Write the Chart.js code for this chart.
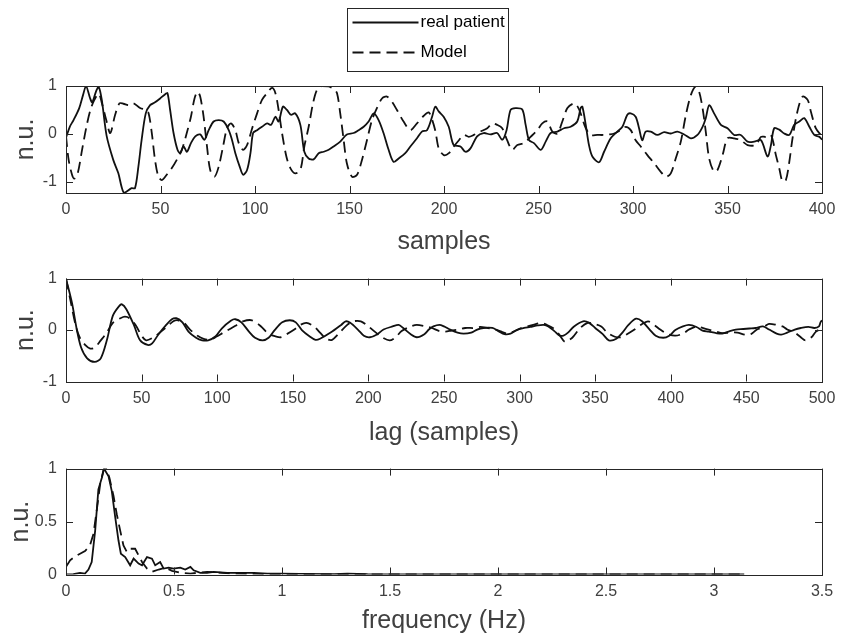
<!DOCTYPE html>
<html>
<head>
<meta charset="utf-8">
<title>Patient vs model</title>
<script src="https://cdn.jsdelivr.net/npm/chart.js@4.4.1/dist/chart.umd.min.js"></script>
<style>
  html, body { margin: 0; padding: 0; background: #fff; overflow: hidden; }
  #wrap { position: relative; width: 849px; height: 636px; }
  #wrap canvas { position: absolute; left: 0; }
</style>
</head>
<body>
<div id="wrap">
  <canvas id="signalChart" width="849" height="260" style="top:0"></canvas>
  <canvas id="acfChart" width="849" height="190" style="top:260px"></canvas>
  <canvas id="psdChart" width="849" height="188" style="top:450px"></canvas>
</div>
<script>
// ---- data ----

// panel 1: time series (samples)
const signalTicksX = [0, 50, 100, 150, 200, 250, 300, 350, 400];
const signalTicksY = [-1, 0, 1];
const patientSignalX = [0, 2, 4, 7, 9, 10.6, 12.7, 13.9, 15.9, 17.3, 18.9, 21.5, 25, 27.7, 29.4, 30.7, 32.1, 34.7, 36.5, 38.3,
  40, 42.2, 44.5, 47.1, 49.8, 52.5, 53.7, 55.1, 56.9, 59, 60.4, 62.2, 64, 66.1, 68.4, 71, 73.2, 75.5, 78.1, 80.8,
  83.4, 86.1, 87.8, 89.6, 91.9, 93.7, 95.8, 97.6, 99, 101.1, 103.7, 106.4, 108.5, 110.8, 112.5, 114.8, 116.9, 119, 121.3, 124,
  126.1, 128.4, 131, 133.7, 136.3, 139, 141.6, 145.1, 148.6, 152.2, 154.8, 157.5, 160.1, 162.8, 165.4, 168, 170.7, 173.3, 176, 179.5,
  182.2, 185.7, 188.3, 191, 193.7, 195.4, 197.2, 199.8, 202.5, 205.1, 208.7, 211.3, 214, 217.5, 221, 224.6, 228.1, 230.8, 233.1, 235.2,
  237.8, 241.4, 243.2, 245, 247.6, 251.2, 253.8, 256.4, 260, 263.5, 267, 270.5, 272.3, 273.2, 275, 276.7, 278.5, 282, 284.7, 288.2,
  291.7, 294.4, 297, 298.8, 301.4, 303.2, 304.9, 306.7, 309.4, 312.9, 316.5, 320, 323.5, 327.1, 330.6, 334.1, 336.8, 338.5, 340.3, 342.9,
  346.5, 350, 353.5, 357, 360.6, 364.1, 367.7, 371.2, 373, 374.7, 377.4, 380, 382.7, 385.3, 388, 390.6, 393.3, 395.9, 398.6, 400];
const patientSignalY = [-0.08, 0.15, 0.29, 0.54, 0.81, 1.0, 0.75, 0.66, 0.89, 0.98, 0.72, -0.04, -0.54, -0.82, -1.1, -1.23, -1.2, -1.13, -1.13, -0.68,
  -0.13, 0.43, 0.6, 0.66, 0.74, 0.83, 0.85, 0.5, 0.02, -0.33, -0.4, -0.26, -0.37, -0.19, -0.05, -0.01, -0.12, 0.08, 0.26, 0.29,
  0.26, 0.08, -0.12, -0.4, -0.68, -0.85, -0.75, -0.4, 0.02, 0.08, 0.15, 0.22, 0.19, 0.36, 0.26, 0.57, 0.5, 0.4, 0.43, 0.19,
  -0.37, -0.51, -0.53, -0.4, -0.37, -0.33, -0.26, -0.16, -0.01, 0.02, 0.08, 0.15, 0.26, 0.43, 0.29, 0.02, -0.33, -0.58, -0.51, -0.4,
  -0.26, -0.09, 0.05, 0.08, 0.36, 0.57, 0.47, 0.36, 0.15, -0.23, -0.26, -0.37, -0.3, -0.05, 0.02, -0.01, 0.02, -0.12, 0.08, 0.5,
  0.54, 0.51, 0.19, -0.13, -0.19, -0.33, -0.16, 0.02, 0.05, 0.12, 0.15, 0.26, 0.54, 0.57, 0.19, -0.23, -0.47, -0.59, -0.37, -0.09,
  0.05, 0.15, 0.4, 0.43, 0.36, 0.12, -0.13, 0.05, 0.05, -0.02, 0.04, 0.01, 0.05, -0.01, -0.09, -0.02, 0.15, 0.33, 0.6, 0.43,
  0.19, 0.12, -0.02, -0.02, -0.16, -0.16, -0.13, -0.47, -0.23, 0.12, 0.09, 0.01, -0.02, 0.19, 0.26, 0.33, 0.15, -0.02, -0.06, -0.12];
const modelSignalX = [0, 1.4, 3.2, 4.4, 6.2, 8.5, 10.8, 12.9, 15, 17.3, 19, 21.3, 23.4, 26, 28.3, 30.4, 33.1, 35.7, 39.2, 42.2,
  43.7, 45.4, 47.1, 48.9, 50.7, 53.3, 56, 58.6, 61.3, 63.9, 66.1, 68, 69.6, 71, 72.8, 74.6, 76.3, 78.6, 80.8, 83.1,
  85.2, 87.3, 89.6, 91.4, 93.7, 95.8, 98.5, 101.1, 103.7, 106.4, 109, 110.8, 112.5, 114.3, 116.6, 118.7, 121.3, 124, 126.1, 128.4,
  130.7, 132.8, 135.5, 139, 141.6, 143.4, 145.1, 146.9, 148.6, 151.3, 154, 156.6, 159.3, 161.9, 164.5, 167.2, 169.8, 172.5, 175.1, 178.6,
  182.2, 185.7, 189.3, 191.9, 193.7, 195.5, 197.2, 199.9, 202.6, 205.2, 207.9, 210.5, 213.1, 215.8, 219.3, 222.9, 225.5, 228.1, 230.8, 233.4,
  236.1, 238.8, 242.3, 245.8, 249.4, 252, 254.7, 257.3, 260, 262.6, 265.3, 268.9, 270.7, 272.3, 275, 277.6, 281.1, 284.7, 287.3, 290,
  293.5, 296.2, 298.8, 301.4, 304.1, 307.6, 311.2, 314.7, 317.4, 320, 322.6, 325.3, 328, 330.6, 333.2, 335, 336.8, 338.5, 340.3, 342.9,
  344.7, 347.4, 350, 353.5, 357, 360.6, 365, 367.7, 370.3, 373, 375.6, 377.4, 379.1, 380.9, 382.7, 384.4, 387, 389.7, 392.4, 394.1,
  396.7, 399.4, 400];
const modelSignalY = [-0.04, -0.54, -0.85, -0.93, -0.82, -0.33, 0.15, 0.5, 0.71, 0.84, 0.64, 0.29, 0.02, 0.4, 0.64, 0.63, 0.6, 0.64, 0.54, 0.5,
  0.43, 0.02, -0.54, -0.89, -0.96, -0.85, -0.71, -0.54, -0.33, 0.02, 0.36, 0.74, 0.88, 0.78, 0.36, -0.26, -0.75, -0.89, -0.68, -0.26,
  0.12, 0.22, 0.08, -0.19, -0.33, -0.23, 0.12, 0.43, 0.71, 0.85, 0.96, 0.85, 0.5, 0.02, -0.47, -0.71, -0.82, -0.75, -0.26, 0.15,
  0.64, 0.92, 1.0, 0.99, 0.94, 0.85, 0.43, -0.12, -0.61, -0.89, -0.85, -0.54, -0.12, 0.29, 0.54, 0.74, 0.78, 0.67, 0.5, 0.26,
  0.08, 0.22, 0.38, 0.45, 0.3, 0.05, -0.3, -0.44, -0.4, -0.26, -0.13, -0.02, -0.06, -0.02, 0.05, 0.12, 0.22, 0.19, 0.12, -0.13,
  -0.33, -0.23, -0.19, -0.06, 0.08, 0.22, 0.26, 0.05, 0.01, 0.26, 0.54, 0.64, 0.57, 0.43, 0.12, -0.02, -0.02, -0.02, -0.01, 0.01,
  0.08, 0.15, 0.08, -0.13, -0.26, -0.44, -0.61, -0.79, -0.89, -0.82, -0.51, -0.16, 0.4, 0.81, 0.99, 0.88, 0.54, 0.05, -0.51, -0.79,
  -0.75, -0.44, -0.09, -0.09, -0.13, -0.23, -0.23, -0.06, -0.06, -0.02, -0.44, -0.72, -0.99, -0.96, -0.58, -0.09, 0.47, 0.78, 0.71, 0.47,
  0.12, -0.02, -0.04];

// panel 2: autocorrelation (lag in samples)
const acfTicksX = [0, 50, 100, 150, 200, 250, 300, 350, 400, 450, 500];
const acfTicksY = [-1, 0, 1];
const patientAcfX = [0, 4, 7, 10, 14, 19, 23, 27, 31, 35, 37, 40, 45, 49, 54, 57, 61, 66, 70, 73,
  77, 81, 86, 90, 94, 99, 103, 109, 112, 116, 121, 125, 130, 134, 138, 143, 148, 152, 156, 161,
  165, 168, 175, 182, 185, 188, 193, 197, 201, 206, 210, 216, 220, 223, 228, 232, 237, 240, 243, 247,
  250, 254, 259, 263, 268, 272, 276, 282, 286, 290, 294, 298, 303, 307, 312, 316, 319, 323, 326, 329,
  332, 336, 342, 346, 350, 355, 359, 364, 368, 372, 377, 381, 386, 390, 395, 399, 403, 408, 412, 417,
  421, 425, 430, 434, 439, 443, 448, 452, 456, 461, 465, 470, 473, 477, 482, 486, 491, 495, 498, 499, 500];
const patientAcfY = [1.0, 0.52, 0.03, -0.34, -0.55, -0.62, -0.55, -0.2, 0.28, 0.46, 0.5, 0.4, 0.09, -0.2, -0.29, -0.26, -0.09, 0.09, 0.21, 0.23,
  0.15, -0.03, -0.15, -0.2, -0.2, -0.12, 0.03, 0.18, 0.21, 0.15, -0.03, -0.15, -0.2, -0.15, 0, 0.15, 0.19, 0.15, 0, -0.12,
  -0.19, -0.17, -0.05, 0.1, 0.17, 0.14, 0.01, -0.11, -0.14, -0.08, 0.01, 0.07, 0.1, 0.04, -0.08, -0.14, -0.08, 0.01, 0.07, 0.1,
  0.07, 0.01, -0.05, -0.07, -0.05, 0.01, 0.04, 0.04, -0.02, -0.08, -0.07, 0, 0.04, 0.06, 0.09, 0.1, 0.07, -0.02, -0.1, -0.11,
  -0.05, 0.07, 0.17, 0.14, 0.04, -0.08, -0.2, -0.17, -0.05, 0.1, 0.22, 0.17, 0.01, -0.11, -0.15, -0.11, 0, 0.07, 0.1, 0.06,
  -0.01, -0.03, -0.06, -0.07, -0.02, 0.01, 0.02, 0.03, 0.04, 0.07, 0.01, -0.07, -0.09, -0.05, 0.01, 0.04, 0.06, 0.04, 0.07, 0.15, 0.19];
const modelAcfX = [0, 3, 6, 9, 13, 16, 19, 23, 27, 31, 36, 39, 42, 46, 50, 53, 58, 62, 67, 71,
  74, 78, 82, 87, 91, 95, 100, 104, 109, 113, 117, 123, 129, 133, 137, 142, 146, 151, 155, 159,
  164, 168, 172, 176, 180, 186, 190, 195, 200, 205, 209, 214, 218, 222, 228, 232, 238, 242, 247, 251,
  255, 260, 264, 270, 274, 279, 283, 287, 292, 296, 301, 305, 309, 314, 318, 322, 326, 330, 334, 336,
  340, 345, 349, 354, 358, 363, 367, 371, 376, 380, 385, 389, 393, 398, 403, 408, 412, 417, 421, 425,
  430, 434, 439, 444, 449, 453, 457, 462, 465, 470, 474, 477, 482, 486, 489, 493, 496, 500];
const modelAcfY = [1.0, 0.57, 0.14, -0.14, -0.3, -0.36, -0.34, -0.2, -0.05, 0.14, 0.23, 0.26, 0.23, 0.1, -0.11, -0.2, -0.14, -0.05, 0.07, 0.17,
  0.19, 0.14, 0.01, -0.11, -0.17, -0.19, -0.12, -0.05, 0.03, 0.1, 0.17, 0.19, 0.07, -0.05, -0.11, -0.14, -0.08, 0.01, 0.1, 0.14,
  0.07, -0.05, -0.17, -0.19, -0.08, 0.1, 0.17, 0.17, 0.07, -0.05, -0.14, -0.2, -0.14, -0.02, 0.07, 0.1, 0.07, 0.04, -0.02, -0.03,
  -0.01, 0.01, 0.04, 0.04, 0.06, 0.04, 0.02, -0.02, -0.07, -0.03, 0.04, 0.07, 0.1, 0.14, 0.1, 0.04, -0.08, -0.23, -0.17, -0.11,
  0.04, 0.14, 0.12, 0.07, -0.05, -0.13, -0.14, -0.08, 0.01, 0.1, 0.17, 0.1, 0.01, -0.08, -0.11, -0.07, 0.01, 0.07, 0.04, 0.01,
  -0.03, -0.06, -0.05, -0.05, -0.09, -0.08, 0.01, 0.07, 0.12, 0.1, 0.07, 0.01, -0.05, -0.14, -0.2, -0.14, -0.03, 0.03];

// panel 3: normalised spectrum (Hz)
const psdTicksX = [0, 0.5, 1, 1.5, 2, 2.5, 3, 3.5];
const psdTicksY = [0, 0.5, 1];
const patientPsdX = [0, 0.034, 0.065, 0.088, 0.104, 0.119, 0.135, 0.15, 0.166, 0.176, 0.197, 0.212, 0.228, 0.243, 0.254, 0.274, 0.297, 0.313, 0.336, 0.352,
  0.375, 0.398, 0.413, 0.436, 0.452, 0.475, 0.498, 0.529, 0.552, 0.576, 0.591, 0.622, 0.653, 0.684, 0.746, 0.808, 0.87, 0.932, 0.994, 1.086,
  1.241, 1.303, 1.396, 1.644, 2.0, 2.5, 3.0, 3.14];
const patientPsdY = [0, 0.003, 0.016, 0.009, 0.047, 0.118, 0.414, 0.804, 0.913, 1.0, 0.928, 0.788, 0.539, 0.321, 0.196, 0.165, 0.087, 0.15, 0.103, 0.087,
  0.165, 0.15, 0.087, 0.118, 0.056, 0.065, 0.056, 0.065, 0.047, 0.072, 0.04, 0.016, 0.016, 0.025, 0.016, 0.016, 0.016, 0.009, 0.009, 0.006,
  0.003, 0.009, 0.003, 0.002, 0.001, 0.001, 0, 0];
const modelPsdX = [0, 0.019, 0.042, 0.065, 0.088, 0.111, 0.127, 0.142, 0.158, 0.173, 0.186, 0.201, 0.22, 0.235, 0.251, 0.266, 0.282, 0.297, 0.32, 0.336,
  0.352, 0.375, 0.398, 0.429, 0.46, 0.491, 0.529, 0.576, 0.653, 0.777, 0.932, 1.086, 1.5, 2.0, 2.5, 3.14];
const modelPsdY = [0.072, 0.134, 0.171, 0.196, 0.221, 0.274, 0.383, 0.601, 0.85, 0.981, 1.0, 0.913, 0.741, 0.57, 0.414, 0.274, 0.212, 0.243, 0.243, 0.181,
  0.118, 0.056, 0.025, 0.047, 0.065, 0.034, 0.016, 0.009, 0.025, 0.009, 0.003, 0, 0, 0, 0, 0];

const seriesLabels = ['real patient', 'Model'];

// ---- styling ----
Chart.defaults.font.family = '"Liberation Sans", Arial, Helvetica, sans-serif';
const TEXT = '#404040';
const AXIS = '#262626';

function toPoints(xs, ys) {
  return xs.map((x, i) => ({ x: x, y: ys[i] }));
}

function lineDataset(label, xs, ys, dashed, tension) {
  return {
    label: label,
    data: toPoints(xs, ys),
    borderColor: '#111',
    borderWidth: 1.8,
    borderDash: dashed ? [11, 6] : [],
    pointRadius: 0,
    tension: tension,
    fill: false
  };
}

// MATLAB-like box with inward ticks on all four sides
const matlabBox = {
  id: 'matlabBox',
  afterDatasetsDraw(chart) {
    const { ctx, chartArea: a, scales: { x, y } } = chart;
    const len = 7;
    ctx.save();
    ctx.strokeStyle = AXIS;
    ctx.lineWidth = 1;
    ctx.beginPath();
    x.ticks.forEach(t => {
      const px = Math.round(x.getPixelForValue(t.value)) + 0.5;
      ctx.moveTo(px, a.bottom); ctx.lineTo(px, a.bottom - len);
      ctx.moveTo(px, a.top); ctx.lineTo(px, a.top + len);
    });
    y.ticks.forEach(t => {
      const py = Math.round(y.getPixelForValue(t.value)) + 0.5;
      ctx.moveTo(a.left, py); ctx.lineTo(a.left + len, py);
      ctx.moveTo(a.right, py); ctx.lineTo(a.right - len, py);
    });
    ctx.stroke();
    ctx.strokeRect(Math.round(a.left) + 0.5, Math.round(a.top) + 0.5,
      Math.round(a.right - a.left), Math.round(a.bottom - a.top));
    ctx.restore();
  }
};

// boxed legend above the first panel, rows stacked like MATLAB's
const boxLegend = {
  id: 'boxLegend',
  afterDraw(chart) {
    const ctx = chart.ctx;
    const bx = 347.5, by = 8.5, bw = 161, bh = 63;
    ctx.save();
    ctx.fillStyle = '#fff';
    ctx.fillRect(bx, by, bw, bh);
    ctx.strokeStyle = AXIS;
    ctx.lineWidth = 1;
    ctx.strokeRect(bx, by, bw, bh);
    chart.data.datasets.forEach((ds, i) => {
      const ry = by + 14 + i * 30;
      ctx.strokeStyle = ds.borderColor;
      ctx.lineWidth = ds.borderWidth;
      ctx.setLineDash(ds.borderDash);
      ctx.beginPath();
      ctx.moveTo(bx + 5, ry);
      ctx.lineTo(bx + 71, ry);
      ctx.stroke();
      ctx.setLineDash([]);
      ctx.fillStyle = '#000';
      ctx.font = '17px "Liberation Sans", Arial, sans-serif';
      ctx.textBaseline = 'middle';
      ctx.fillText(ds.label, bx + 73, ry);
    });
    ctx.restore();
  }
};

function panelOptions(p) {
  return {
    responsive: false,
    animation: false,
    layout: { padding: { top: p.padTop, right: 27, bottom: p.padBottom, left: 0 } },
    plugins: { legend: { display: false }, tooltip: { enabled: false } },
    scales: {
      x: {
        type: 'linear',
        min: p.xMin,
        max: p.xMax,
        afterFit: s => { s.height = p.xAxisH; },
        afterBuildTicks: s => { s.ticks = p.xTicks.map(v => ({ value: v })); },
        grid: { display: false, drawTicks: false },
        border: { display: false },
        ticks: { color: TEXT, font: { size: 16 }, padding: 7, maxRotation: 0, autoSkip: false, callback: v => String(v) },
        title: { display: true, text: p.xTitle, color: TEXT, font: { size: 25 }, padding: 0 }
      },
      y: {
        type: 'linear',
        min: p.yMin,
        max: p.yMax,
        afterFit: s => { s.width = 66; },
        afterBuildTicks: s => { s.ticks = p.yTicks.map(v => ({ value: v })); },
        grid: { display: false, drawTicks: false },
        border: { display: false },
        ticks: { color: TEXT, font: { size: 16 }, padding: 9, autoSkip: false, callback: v => String(v) },
        title: { display: true, text: 'n.u.', color: TEXT, font: { size: 25 }, padding: { top: p.yTitlePad, bottom: 0 } }
      }
    }
  };
}

// Panel 1: raw signals
new Chart(document.getElementById('signalChart'), {
  type: 'line',
  data: {
    datasets: [
      lineDataset(seriesLabels[0], patientSignalX, patientSignalY, false, 0.3),
      lineDataset(seriesLabels[1], modelSignalX, modelSignalY, true, 0.3)
    ]
  },
  options: panelOptions({ padTop: 86, padBottom: 3, xAxisH: 64, xMin: 0, xMax: 400, yMin: -1.23, yMax: 1,
    xTicks: signalTicksX, yTicks: signalTicksY, xTitle: 'samples', yTitlePad: 11 }),
  plugins: [matlabBox, boxLegend]
});

// Panel 2: autocorrelation
new Chart(document.getElementById('acfChart'), {
  type: 'line',
  data: {
    datasets: [
      lineDataset(seriesLabels[0], patientAcfX, patientAcfY, false, 0.3),
      lineDataset(seriesLabels[1], modelAcfX, modelAcfY, true, 0.3)
    ]
  },
  options: panelOptions({ padTop: 13, padBottom: 2, xAxisH: 66.5, xMin: 0, xMax: 500, yMin: -1, yMax: 1,
    xTicks: acfTicksX, yTicks: acfTicksY, xTitle: 'lag (samples)', yTitlePad: 11 }),
  plugins: [matlabBox]
});

// Panel 3: spectrum
new Chart(document.getElementById('psdChart'), {
  type: 'line',
  data: {
    datasets: [
      lineDataset(seriesLabels[0], patientPsdX, patientPsdY, false, 0),
      lineDataset(seriesLabels[1], modelPsdX, modelPsdY, true, 0)
    ]
  },
  options: panelOptions({ padTop: 17, padBottom: 2, xAxisH: 61.5, xMin: 0, xMax: 3.5, yMin: 0, yMax: 1,
    xTicks: psdTicksX, yTicks: psdTicksY, xTitle: 'frequency (Hz)', yTitlePad: 6 }),
  plugins: [matlabBox]
});
</script>
</body>
</html>
